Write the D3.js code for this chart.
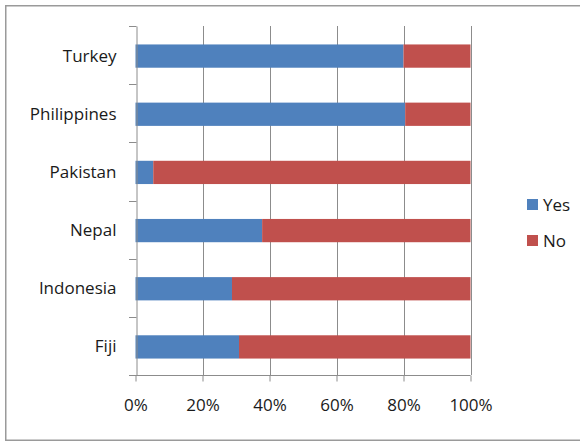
<!DOCTYPE html>
<html>
<head>
<meta charset="utf-8">
<script src="https://cdn.jsdelivr.net/npm/d3@7"></script>
<style>
  html, body { margin: 0; padding: 0; background: #fff; }
  svg { display: block; }
  text { font-family: "Open Sans", Lato, "Liberation Sans", sans-serif; fill: #1a1a1a; }
</style>
</head>
<body>
<svg id="chart" width="580" height="442"></svg>
<script>
// Share of respondents answering Yes / No, by country (percent)
const countries = ["Turkey", "Philippines", "Pakistan", "Nepal", "Indonesia", "Fiji"];
const yesValues = [80, 80.5, 5.3, 37.8, 28.8, 30.9];
const noValues  = [20, 19.5, 94.7, 62.2, 71.2, 69.1];
const seriesNames = ["Yes", "No"];
const seriesColors = ["#4F81BD", "#C0504D"];
const xTicks = [0, 20, 40, 60, 80, 100];

const svg = d3.select("#chart");
const fontSize = "17px";
const textColor = "#14141e";

// outer frame
svg.append("rect")
  .attr("x", 5.75).attr("y", 5.75)
  .attr("width", 600).attr("height", 434.5)
  .attr("fill", "none").attr("stroke", "#9a9a9a").attr("stroke-width", 1.5);

const plot = { left: 135.5, right: 470.5, top: 26, bottom: 375 };

const x = d3.scaleLinear().domain([0, 100]).range([plot.left, plot.right]);
const y = d3.scaleBand().domain(countries).range([plot.top, plot.bottom]).paddingInner(0.6).paddingOuter(0.3);

const rows = countries.map((c, i) => ({ country: c, Yes: yesValues[i], No: noValues[i] }));
const stacked = d3.stack().keys(seriesNames)(rows);

// vertical gridlines
svg.append("g")
  .selectAll("line")
  .data(xTicks.slice(1))
  .join("line")
  .attr("x1", d => Math.round(x(d)) + 0.5).attr("x2", d => Math.round(x(d)) + 0.5)
  .attr("y1", plot.top).attr("y2", plot.bottom)
  .attr("stroke", "#8c8c8c").attr("stroke-width", 1);

// bars
svg.append("g")
  .selectAll("g")
  .data(stacked)
  .join("g")
  .attr("fill", (d, i) => seriesColors[i])
  .selectAll("rect")
  .data(d => d)
  .join("rect")
  .attr("x", d => x(d[0]))
  .attr("width", d => x(d[1]) - x(d[0]))
  .attr("y", d => y(d.data.country) + 1)
  .attr("height", y.bandwidth());

// category axis
const yAxis = d3.axisLeft(d3.scaleBand().domain(countries).range([plot.top, plot.bottom]))
  .tickSize(0).tickPadding(20);
const yg = svg.append("g").attr("transform", `translate(${Math.round(plot.left) + 0.5},1)`).call(yAxis);
yg.select(".domain").attr("stroke", "#8c8c8c").attr("transform", "translate(0,-1)");
yg.selectAll("text").style("font-size", fontSize).attr("fill", textColor);

// category tick marks at band boundaries
const boundaries = d3.range(countries.length + 1).map(i => plot.top + i * (plot.bottom - plot.top) / countries.length);
svg.append("g")
  .selectAll("line")
  .data(boundaries)
  .join("line")
  .attr("x1", Math.round(plot.left) - 7).attr("x2", Math.round(plot.left) + 0.5)
  .attr("y1", d => Math.round(d) + 0.5).attr("y2", d => Math.round(d) + 0.5)
  .attr("stroke", "#8c8c8c");

// value axis
const xAxis = d3.axisBottom(x).tickValues(xTicks).tickFormat(d => d + "%").tickSize(6).tickPadding(17);
const xg = svg.append("g").attr("transform", `translate(0,${plot.bottom + 0.5})`).call(xAxis);
xg.select(".domain").attr("stroke", "#8c8c8c").attr("d", `M${plot.left},0H${plot.right}`);
xg.selectAll("line").attr("stroke", "#8c8c8c");
xg.selectAll("text").style("font-size", fontSize).attr("fill", textColor);

// legend
const legend = svg.append("g")
  .selectAll("g")
  .data(seriesNames)
  .join("g")
  .attr("transform", (d, i) => `translate(527,${199 + i * 36})`);
legend.append("rect").attr("width", 11).attr("height", 11).attr("fill", (d, i) => seriesColors[i]);
legend.append("text").attr("x", 16).attr("y", 6).attr("dy", "0.35em")
  .style("font-size", fontSize).attr("fill", textColor).text(d => d);
</script>
</body>
</html>
